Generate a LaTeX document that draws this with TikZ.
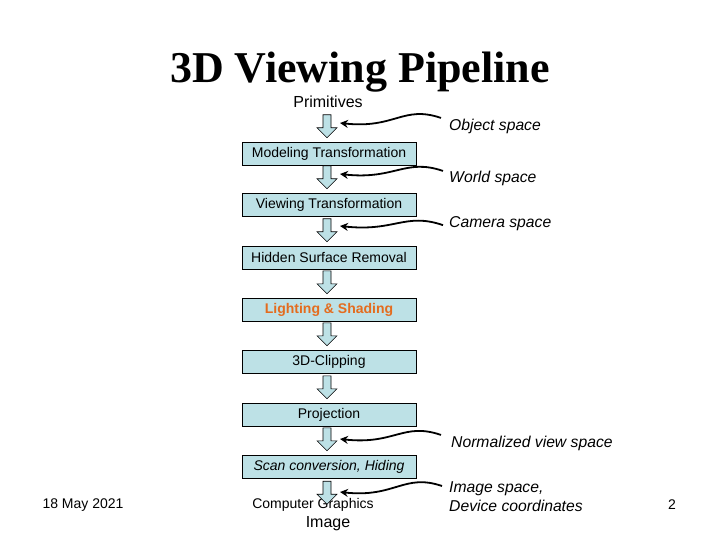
\documentclass[tikz,border=0pt]{standalone}
\usepackage{fontspec}
\setmainfont{Liberation Sans}
\newfontfamily\titlefont{Liberation Serif}
\usetikzlibrary{calc,arrows.meta}

\definecolor{boxfill}{RGB}{189,225,230}
\definecolor{litorange}{RGB}{228,108,30}

\tikzset{
	stage/.style={draw=black, fill=boxfill, minimum width=174pt, minimum height=23pt, inner sep=0pt, font=\fontsize{14}{16}\selectfont},
	lbl/.style={anchor=base west, inner sep=0pt, font=\fontsize{15.7}{19}\selectfont\itshape},
	txt/.style={anchor=base, inner sep=0pt, font=\fontsize{14}{16}\selectfont},
	wav/.style={draw=black, line width=1.8pt, -{Stealth[length=8pt,width=8pt]}},
	pics/blk/.style={code={
		\draw[fill=boxfill, line width=0.6pt] (-4,0) -- (4,0) -- (4,13) -- (10,13) -- (0,23) -- (-10,13) -- (-4,13) -- cycle;
	}}
}

\begin{document}
\begin{tikzpicture}[x=1pt, y=-1pt]
			\useasboundingbox (0,0) rectangle (720,540);
			
			% title
			\node[anchor=base, inner sep=0pt, font=\titlefont\bfseries\fontsize{44}{48}\selectfont] (ttl) at (360,83) {3D Viewing Pipeline};
			\node[txt, font=\fontsize{16}{18}\selectfont] (prim) at (328,108) {Primitives};
			
			% stages
			\node[stage] (model) at (329,153.5) {Modeling Transformation};
			\node[stage] (view) at (329,204.5) {Viewing Transformation};
			\node[stage] (hidden) at (329,257.5) {Hidden Surface Removal};
			\node[stage, font=\fontsize{14}{16}\selectfont\bfseries, text=litorange] (light) at (329,309.5) {Lighting \& Shading};
			\node[stage] (clip) at (329,361.5) {3D-Clipping};
			\node[stage] (proj) at (329,414.5) {Projection};
			\node[stage, font=\fontsize{14}{16}\selectfont\itshape] (scan) at (329,466.5) {Scan conversion, Hiding};
			
			% footer
			\node[txt] (cg) at (313,508) {Computer Graphics};
			\node[txt, font=\fontsize{16}{18}\selectfont] (img) at (328,527) {Image};
			\node[txt] (date) at (83,508) {18 May 2021};
			\node[txt] (page) at (672,509) {2};
			
			% DRAW BLOCK ARROWS
			\pic at ($(model.north)+(-2,-27)$) {blk};
			\pic at ($(view.north)+(-2,-27)$) {blk};
			\pic at ($(hidden.north)+(-2,-27)$) {blk};
			\pic at ($(light.north)+(-2,-27)$) {blk};
			\pic at ($(clip.north)+(-2,-27)$) {blk};
			\pic at ($(proj.north)+(-2,-27)$) {blk};
			\pic at ($(scan.north)+(-2,-27)$) {blk};
			\pic at ($(scan.south)+(-2,3)$) {blk};
			
			% spaces
			\node[lbl] (objsp) at (449,131) {Object space};
			\node[lbl] (wldsp) at (449,183) {World space};
			\node[lbl] (camsp) at (449,227) {Camera space};
			\node[lbl] (nrmsp) at (451,447) {Normalized view space};
			\node[lbl, align=left, anchor=west] (imgsp) at (449,497) {Image space,\\Device coordinates};
			
			\coordinate (t1) at (340,123);
			\coordinate (t2) at (340,174);
			\coordinate (t3) at (340,226);
			\coordinate (t4) at (340,439);
			\coordinate (t5) at (340,492);
			
			% DRAW WAVY ARROWS
			\draw[wav] ($(objsp.west)+(-8,-9)$) .. controls +(-38,-13) and +(55,6) .. (t1);
			\draw[wav] ($(wldsp.west)+(-6,-8)$) .. controls +(-38,-13) and +(55,6) .. (t2);
			\draw[wav] ($(camsp.west)+(-6,2)$) .. controls +(-38,-13) and +(55,6) .. (t3);
			\draw[wav] ($(nrmsp.west)+(-10,-8)$) .. controls +(-38,-13) and +(55,6) .. (t4);
			\draw[wav] ($(imgsp.west)+(-7,-11)$) .. controls +(-38,-13) and +(55,6) .. (t5);
		\end{tikzpicture}
\end{document}
